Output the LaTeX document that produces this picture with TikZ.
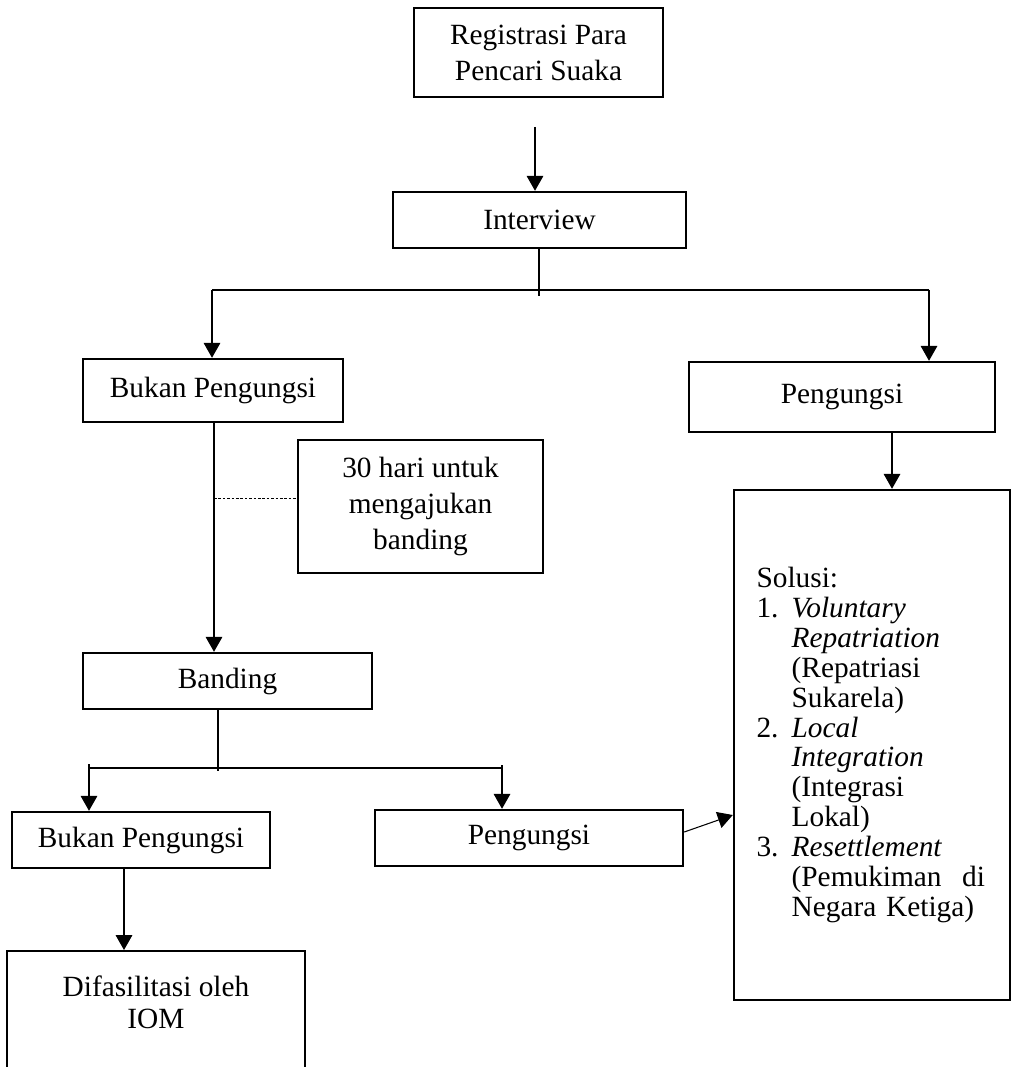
\documentclass[tikz,border=0pt]{standalone}
\usepackage{fontspec}
\setmainfont{Liberation Serif}
\usetikzlibrary{arrows.meta}

\begin{document}
\begin{tikzpicture}[x=0.2mm, y=-0.2mm,
    box/.style={draw, line width=1.4pt, inner sep=0pt, align=center,
        font=\fontsize{16.7}{20.5}\selectfont},
    line/.style={line width=0.6pt},
    arr/.style={line width=0.6pt, -{Triangle[width=9.5pt,length=8.5pt]}}]
        % Page frame (the bottom box runs off the page)
        \useasboundingbox (0,0) rectangle (1015,1067);
        \clip (0,0) rectangle (1015,1067);

        % Boxes
        \node[box, minimum width=49.8mm, minimum height=17.8mm] (reg) at (538.5,52.5) {Registrasi Para\\Pencari Suaka};
        \node[box, minimum width=58.6mm, minimum height=11.2mm] (intv) at (539.5,220) {Interview};
        \node[box, minimum width=52mm, minimum height=12.6mm] (bukan1) at (213,390.5) {Bukan Pengungsi};
        \node[box, minimum width=61.2mm, minimum height=14mm] (peng1) at (842,397) {Pengungsi};
        \node[box, minimum width=49mm, minimum height=26.6mm] (hari) at (420.5,506.5) {30 hari untuk\\mengajukan\\banding};
        \node[box, minimum width=57.8mm, minimum height=11.2mm] (banding) at (227.5,681) {Banding};
        \node[box, minimum width=51.6mm, minimum height=11.2mm] (bukan2) at (141,840) {Bukan Pengungsi};
        \node[box, minimum width=61.6mm, minimum height=11.2mm] (peng2) at (529,838) {Pengungsi};
        \node[box, anchor=north, minimum width=59.6mm, inner ysep=5mm, text depth=30mm,
            font=\fontsize{16.7}{18}\selectfont] (iom) at (156,950) {Difasilitasi oleh\\IOM};

        % Solution box
        \node[box, align=left, text width=46.2mm, inner xsep=4.5mm, minimum height=102mm,
            font=\fontsize{16.7}{17}\selectfont] (solusi) at (872,745) {%
            Solusi:\\
            \makebox[20pt][l]{1.}\textit{Voluntary}\\
            \hspace*{20pt}\textit{Repatriation}\\
            \hspace*{20pt}(Repatriasi\\
            \hspace*{20pt}Sukarela)\\
            \makebox[20pt][l]{2.}\textit{Local}\\
            \hspace*{20pt}\textit{Integration}\\
            \hspace*{20pt}(Integrasi\\
            \hspace*{20pt}Lokal)\\
            \makebox[20pt][l]{3.}\textit{Resettlement}\\
            \hspace*{20pt}\makebox[110pt][s]{(Pemukiman\hfill di}\\
            \hspace*{20pt}Negara Ketiga)};

        % Helper points for the connectors
        \coordinate (top) at (535,127);
        \coordinate (jA) at (539,290);
        \coordinate (jAl) at (212,290);
        \coordinate (jAr) at (929,290);
        \coordinate (pS) at (892,0);
        \coordinate (dt) at (214,498);
        \coordinate (jB) at (218,768);
        \coordinate (jBl) at (89,764);
        \coordinate (jBr) at (502,765);
        \coordinate (bI) at (124,0);
        \coordinate (sIn) at (0,815);

        % Connectors
        \draw[arr] (top) -- (top |- intv.north);
        \draw[line] (intv.south -| jA) -- ++(0,47);
        \draw[line] (jAl) -- (jAr);
        \draw[arr] (jAl) -- (jAl |- bukan1.north);
        \draw[arr] (jAr) -- (jAr |- peng1.north);
        \draw[arr] (peng1.south -| pS) -- (solusi.north -| pS);

        \draw[arr] (bukan1.south -| dt) -- (banding.north -| dt);
        \draw[line, line width=0.5pt, dash pattern=on 1.5pt off 1pt] (dt) -- (dt -| hari.west);

        \draw[line] (banding.south -| jB) -- ++(0,61);
        \draw[line] (jBl |- jB) -- (jBr |- jB);
        \draw[arr] (jBl) -- (jBl |- bukan2.north);
        \draw[arr] (jBr) -- (jBr |- peng2.north);

        \draw[arr] (bukan2.south -| bI) -- (iom.north -| bI);
        \draw[arr] ([yshift=1.2mm]peng2.east) -- (solusi.west |- sIn);

    \end{tikzpicture}
\end{document}
